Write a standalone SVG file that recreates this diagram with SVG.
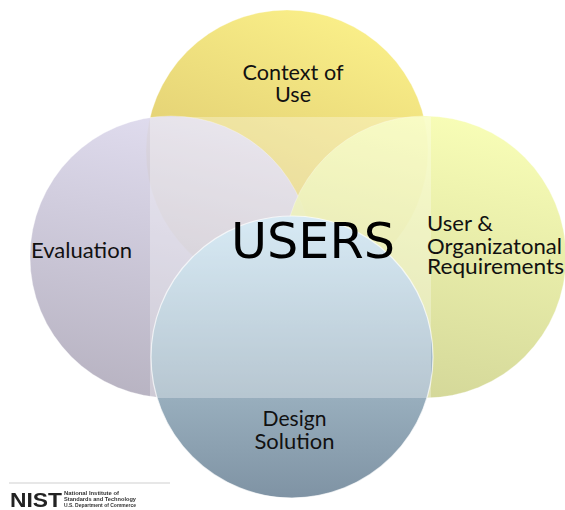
<svg xmlns="http://www.w3.org/2000/svg" width="565" height="510" viewBox="0 0 565 510">
<style>
.c{stroke:#fff;stroke-width:1;stroke-opacity:.3}
.l{font-family:"Lato","Liberation Sans",sans-serif;font-size:21.5px;fill:#111}
.s{font-family:"Liberation Sans",Arial,sans-serif;font-size:6px;font-weight:bold;fill:#333}
</style>
<defs>
<linearGradient id="gt" gradientUnits="userSpaceOnUse" x1="340" y1="20" x2="230" y2="290"><stop offset="0" stop-color="#f9ee88"/><stop offset="1" stop-color="#d6bf68"/></linearGradient>
<linearGradient id="gl" gradientUnits="userSpaceOnUse" x1="200" y1="117" x2="140" y2="398"><stop offset="0" stop-color="#dedaee"/><stop offset="1" stop-color="#b2adbd"/></linearGradient>
<linearGradient id="gr" gradientUnits="userSpaceOnUse" x1="460" y1="117" x2="400" y2="398"><stop offset="0" stop-color="#f7fdb0"/><stop offset="1" stop-color="#d0d490"/></linearGradient>
<linearGradient id="gb" gradientUnits="userSpaceOnUse" x1="292" y1="216" x2="292" y2="498"><stop offset="0" stop-color="#c6e1f0"/><stop offset=".645" stop-color="#98aebd"/><stop offset="1" stop-color="#7f93a4"/></linearGradient>
<filter id="soft" x="-5%" y="-20%" width="110%" height="140%"><feGaussianBlur stdDeviation="0.35"/></filter>
</defs>
<g id="connectors"/>
<g id="node-context"><circle class="c" cx="287" cy="151" r="141" fill="url(#gt)"/></g>
<g id="node-evaluation"><circle class="c" cx="171" cy="257" r="141" fill="url(#gl)" fill-opacity=".92"/></g>
<g id="node-requirements"><circle class="c" cx="425" cy="257" r="141" fill="url(#gr)" fill-opacity=".92"/></g>
<g id="node-design"><circle cx="292" cy="357" r="141" fill="url(#gb)" stroke="#fff" stroke-width="1.200" stroke-opacity=".7"/></g>
<rect id="overlay" x="150" y="117" width="281" height="281" fill="#fff" fill-opacity=".3"/>
<g id="labels">
<text class="l" x="293" y="80" text-anchor="middle" textLength="101" lengthAdjust="spacingAndGlyphs">Context of</text>
<text class="l" x="293" y="102" text-anchor="middle" textLength="36" lengthAdjust="spacingAndGlyphs">Use</text>
<text class="l" x="31" y="258" textLength="101" lengthAdjust="spacingAndGlyphs">Evaluation</text>
<text class="l" x="427" y="231" textLength="66" lengthAdjust="spacingAndGlyphs">User &amp;</text>
<text class="l" x="427" y="254" textLength="135" lengthAdjust="spacingAndGlyphs">Organizatonal</text>
<text class="l" x="427" y="274" textLength="137" lengthAdjust="spacingAndGlyphs">Requirements</text>
<text class="l" x="294.500" y="426" text-anchor="middle" textLength="64" lengthAdjust="spacingAndGlyphs">Design</text>
<text class="l" x="294.500" y="449" text-anchor="middle" textLength="80" lengthAdjust="spacingAndGlyphs">Solution</text>
<text x="231" y="258" font-family="DejaVu Sans,sans-serif" font-size="49" fill="#000" textLength="164" lengthAdjust="spacingAndGlyphs">USERS</text>
</g>
<g id="nist-logo">
<rect x="9" y="482.500" width="161" height="1" fill="#d0d0d0"/>
<g filter="url(#soft)">
<text x="10" y="507" font-family="Liberation Sans,sans-serif" font-weight="bold" font-size="21" fill="#222" textLength="52" lengthAdjust="spacingAndGlyphs">NIST</text>
<text class="s" x="64" y="495" textLength="55" lengthAdjust="spacingAndGlyphs">National Institute of</text>
<text class="s" x="64" y="501" textLength="72" lengthAdjust="spacingAndGlyphs">Standards and Technology</text>
<text class="s" x="64" y="507" textLength="72" lengthAdjust="spacingAndGlyphs" font-weight="normal">U.S. Department of Commerce</text>
</g>
</g>
</svg>
